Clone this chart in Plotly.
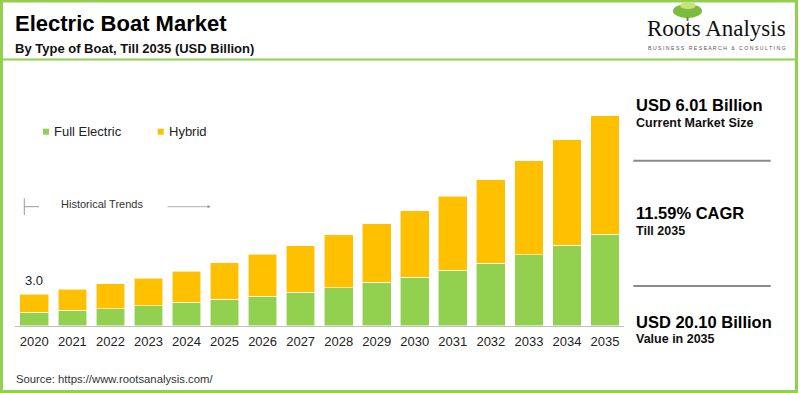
import plotly.graph_objects as go

W, H = 800, 393

years = [str(y) for y in range(2020, 2036)]
full_electric = [1.28, 1.47, 1.63, 1.91, 2.24, 2.53, 2.81, 3.22, 3.64, 4.15, 4.66, 5.30, 5.97, 6.79, 7.69, 8.75]
total = [3.0, 3.48, 4.02, 4.56, 5.23, 6.01, 6.83, 7.66, 8.68, 9.76, 11.00, 12.41, 13.97, 15.76, 17.80, 20.10]
hybrid = [round(t - f, 2) for t, f in zip(total, full_electric)]

GREEN = "#92D050"
ORANGE = "#FFC000"
BORDER = "#92D050"
FONT = "Liberation Sans, Arial, sans-serif"


def px(x):
    return x / W


def py(y):
    return 1 - y / H


fig = go.Figure()
fig.add_trace(go.Bar(x=years, y=full_electric, name="Full Electric",
                     marker=dict(color=GREEN, line=dict(color="rgba(255,255,255,0.7)", width=0.8))))
fig.add_trace(go.Bar(x=years, y=hybrid, name="Hybrid",
                     marker=dict(color=ORANGE, line=dict(color="rgba(255,255,255,0.7)", width=0.8))))

shapes = []
# outer border
shapes.append(dict(type="rect", xref="paper", yref="paper", x0=px(1.5), x1=px(796.5), y0=py(391.5), y1=py(1),
                   line=dict(color=BORDER, width=3)))
# header separator
shapes.append(dict(type="line", xref="paper", yref="paper", x0=px(3), x1=px(796), y0=py(59.5), y1=py(59.5),
                   line=dict(color=BORDER, width=2)))
# legend squares
shapes.append(dict(type="rect", xref="paper", yref="paper", x0=px(43), x1=px(49), y0=py(134.7), y1=py(128.7),
                   fillcolor=GREEN, line=dict(width=0)))
shapes.append(dict(type="rect", xref="paper", yref="paper", x0=px(157.7), x1=px(163.7), y0=py(134.7), y1=py(128.7),
                   fillcolor=ORANGE, line=dict(width=0)))
# historical trends bracket
shapes.append(dict(type="line", xref="paper", yref="paper", x0=px(24.3), x1=px(24.3), y0=py(198.3), y1=py(215),
                   line=dict(color="#999999", width=1)))
shapes.append(dict(type="line", xref="paper", yref="paper", x0=px(24.3), x1=px(39), y0=py(206.7), y1=py(206.7),
                   line=dict(color="#999999", width=1)))
# right panel separators
for yy in (160.7, 286):
    shapes.append(dict(type="line", xref="paper", yref="paper", x0=px(633.3), x1=px(770.7), y0=py(yy), y1=py(yy),
                       line=dict(color="#8a8a8a", width=2)))
# logo tree
shapes.append(dict(type="circle", xref="paper", yref="paper", x0=px(673), x1=px(702), y0=py(18), y1=py(4),
                   fillcolor="#7dbb3c", line=dict(width=0)))
shapes.append(dict(type="circle", xref="paper", yref="paper", x0=px(680), x1=px(696), y0=py(9), y1=py(2),
                   fillcolor="#c9e27a", line=dict(width=0)))
shapes.append(dict(type="line", xref="paper", yref="paper", x0=px(687.5), x1=px(687.5), y0=py(17), y1=py(21),
                   line=dict(color="#6a8f3a", width=2)))

ann = []


def text(x, y, t, size, color="#111111", bold=False, family=FONT, anchor="left"):
    ann.append(dict(xref="paper", yref="paper", x=px(x), y=py(y), text=("<b>%s</b>" % t) if bold else t,
                    showarrow=False, xanchor=anchor, yanchor="middle",
                    font=dict(size=size, color=color, family=family)))


text(13, 24, "Electric Boat Market", 22, "#000000", True)
text(13, 48.3, "By Type of Boat, Till 2035 (USD Billion)", 13, "#111111", True)
text(645, 28.3, "Roots Analysis", 23, "#111111", False, "Liberation Serif, Times New Roman, serif")
text(716.5, 47.7, "B U S I N E S S   R E S E A R C H   &   C O N S U L T I N G", 5.2, "#555555", False, FONT, "center")

text(52, 131.7, "Full Electric", 13, "#222222")
text(166.5, 131.7, "Hybrid", 13, "#222222")
text(59, 203.7, "Historical Trends", 11, "#333333")

text(634, 105, "USD 6.01 Billion", 16.5, "#000000", True)
text(634, 122.7, "Current Market Size", 12.5, "#111111", True)
text(634, 213.3, "11.59% CAGR", 16.5, "#000000", True)
text(634, 231, "Till 2035", 12.5, "#111111", True)
text(634, 322.3, "USD 20.10 Billion", 16.5, "#000000", True)
text(634, 339.3, "Value in 2035", 12.5, "#111111", True)

text(14, 378.7, "Source: https://www.rootsanalysis.com/", 11.3, "#333333")

# arrow for historical trends
ann.append(dict(xref="paper", yref="paper", x=px(210.7), y=py(206.7), ax=-44.7, ay=0, text="",
                showarrow=True, arrowhead=2, arrowsize=0.8, arrowwidth=0.8, arrowcolor="#999999"))

# first bar value label (category index 0 = first year)
ann.append(dict(xref="x", yref="y", x=0, y=total[0], text="%.1f" % total[0], showarrow=False,
                yanchor="bottom", yshift=4, font=dict(size=13, color="#222222", family=FONT)))

fig.update_layout(
    width=W, height=H,
    margin=dict(l=0, r=0, t=0, b=0),
    paper_bgcolor="white", plot_bgcolor="white",
    barmode="stack", bargap=0.245,
    showlegend=False,
    shapes=shapes, annotations=ann,
    font=dict(family=FONT),
    xaxis=dict(domain=[px(15.3), px(624)], type="category", range=[-0.5, 15.5],
               showline=True, linecolor="#bfbfbf", linewidth=1, showgrid=False, ticks="",
               ticklabelstandoff=4,
               tickfont=dict(size=13, color="#222222", family=FONT), fixedrange=True),
    yaxis=dict(domain=[py(325.7), py(101)], range=[0, 21.5], visible=False, showgrid=False, fixedrange=True),
)

fig.write_html("out.html", config={"displayModeBar": False},
               post_script="document.body.style.margin='0';document.body.style.overflow='hidden';")
